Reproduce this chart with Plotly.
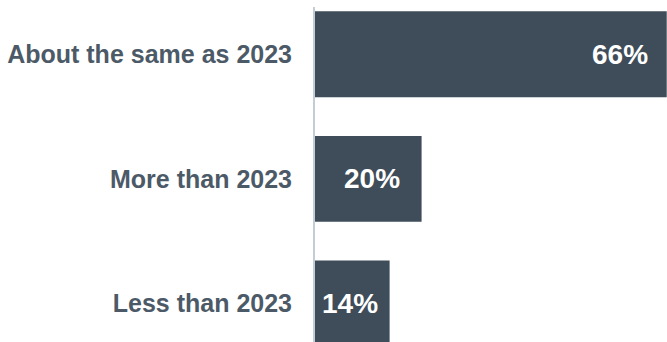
import plotly.graph_objects as go

# Survey answers, top to bottom
categories = ["About the same as 2023", "More than 2023", "Less than 2023"]
values = [66, 20, 14]
value_labels = ["66%", "20%", "14%"]

BAR_COLOR = "#3f4c59"
LABEL_COLOR = "#4c5a68"
AXIS_COLOR = "#c3cdd7"

fig = go.Figure(
    go.Bar(
        x=values,
        y=categories,
        orientation="h",
        marker=dict(color=BAR_COLOR, line=dict(width=0)),
        width=0.69,
        hoverinfo="skip",
    )
)

# Value labels placed near the end of each bar
label_shift = [-17, -20, -10]
for cat, v, lab, dx in zip(categories, values, value_labels, label_shift):
    fig.add_annotation(
        x=v, y=cat, text=lab, showarrow=False,
        xanchor="right", yanchor="middle", xshift=dx,
        font=dict(family="Liberation Sans, Arial, sans-serif", size=28, color="white", weight="bold"),
    )

fig.update_layout(
    width=667, height=342,
    margin=dict(l=315, r=0, t=7, b=0),
    paper_bgcolor="white", plot_bgcolor="white",
    showlegend=False,
    bargap=0.31,
    xaxis=dict(range=[0, 66.05], visible=False, fixedrange=True),
    yaxis=dict(
        categoryorder="array", categoryarray=categories,
        range=[2.31, -0.38],
        showgrid=False, zeroline=False,
        showline=True, linecolor=AXIS_COLOR, linewidth=2,
        ticks="", ticklabelstandoff=16,
        tickfont=dict(family="Liberation Sans, Arial, sans-serif", size=25, color=LABEL_COLOR, weight="bold"),
        fixedrange=True,
    ),
)

fig.write_html("out.html", config={"displayModeBar": False})
